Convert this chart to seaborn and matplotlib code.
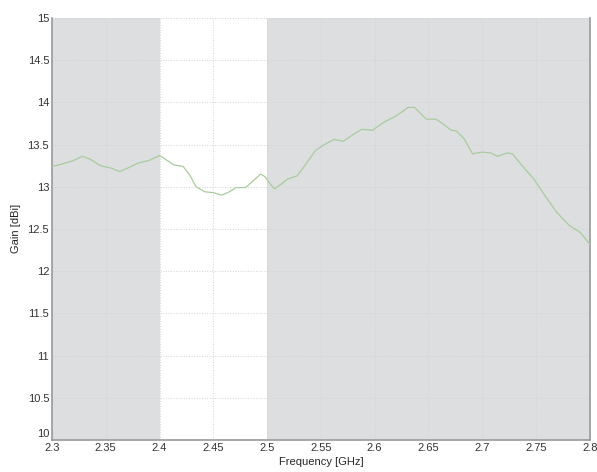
import numpy as np
import pandas as pd
import matplotlib
matplotlib.use("Agg")
import matplotlib.pyplot as plt
import matplotlib.transforms as mtransforms
import seaborn as sns

freq = [2.300, 2.310, 2.320, 2.328, 2.335, 2.345, 2.355, 2.363, 2.372, 2.380,
        2.390, 2.400, 2.405, 2.413, 2.422, 2.428, 2.434, 2.442, 2.450, 2.458,
        2.465, 2.471, 2.480, 2.488, 2.494, 2.498, 2.503, 2.507, 2.513, 2.519,
        2.528, 2.535, 2.545, 2.552, 2.562, 2.571, 2.579, 2.588, 2.598, 2.608,
        2.620, 2.631, 2.637, 2.648, 2.657, 2.663, 2.671, 2.676, 2.683, 2.691,
        2.700, 2.708, 2.714, 2.723, 2.728, 2.737, 2.748, 2.758, 2.769, 2.781,
        2.791, 2.800]
gain = [13.24, 13.27, 13.31, 13.36, 13.33, 13.25, 13.22, 13.18, 13.23, 13.28,
        13.31, 13.37, 13.33, 13.26, 13.24, 13.14, 13.00, 12.94, 12.93, 12.90,
        12.94, 12.99, 12.99, 13.08, 13.15, 13.12, 13.03, 12.975, 13.03, 13.09,
        13.13, 13.25, 13.43, 13.49, 13.56, 13.54, 13.61, 13.68, 13.67, 13.76,
        13.84, 13.94, 13.94, 13.80, 13.80, 13.75, 13.67, 13.66, 13.57, 13.39,
        13.41, 13.40, 13.36, 13.40, 13.39, 13.25, 13.09, 12.90, 12.70, 12.54,
        12.46, 12.32]

# shaded (out-of-band) frequency spans
shaded = [(2.3, 2.4), (2.5, 2.8)]
xticks = [2.3, 2.35, 2.4, 2.45, 2.5, 2.55, 2.6, 2.65, 2.7, 2.75, 2.8]
yticks = [10, 10.5, 11, 11.5, 12, 12.5, 13, 13.5, 14, 14.5, 15]

df = pd.DataFrame({"Frequency": freq, "Gain": gain})

sns.set_style("white")
plt.rcParams["font.family"] = ["Liberation Sans", "DejaVu Sans"]

fig = plt.figure(figsize=(5.97, 4.72), dpi=100)
ax = fig.add_axes([0.087, 0.068, 0.901, 0.894])

for lo, hi in shaded:
    ax.axvspan(lo, hi, color="#dcdee0", lw=0, zorder=0)

sns.lineplot(data=df, x="Frequency", y="Gain", ax=ax, color="#a9cc9c",
             lw=0.9, zorder=3)

ax.set_xlim(2.3, 2.8)
ax.set_ylim(10, 15)
ax.set_xticks(xticks)
ax.set_xticklabels([f"{t:g}" for t in xticks])
ax.set_yticks(yticks)
ax.set_yticklabels([f"{t:g}" for t in yticks])
ax.grid(True, linestyle=":", color="#d2d2d2", lw=0.7, zorder=1)
ax.tick_params(direction="in", length=3, labelsize=8, pad=2, colors="#333333")

# the bottom y label sits a bit higher, as in the original
lab0 = ax.get_yticklabels()[0]
lab0.set_transform(lab0.get_transform() +
                   mtransforms.ScaledTranslation(0, 7 / 100, fig.dpi_scale_trans))

for side in ["left", "right", "bottom"]:
    ax.spines[side].set_color("#9a9a9a")
    ax.spines[side].set_linewidth(1.2)
ax.spines["top"].set_visible(False)

ax.set_xlabel("Frequency [GHz]", fontsize=8, labelpad=3)
ax.set_ylabel("Gain [dBi]", fontsize=8, labelpad=5)

fig.savefig("out.png", dpi=100)
